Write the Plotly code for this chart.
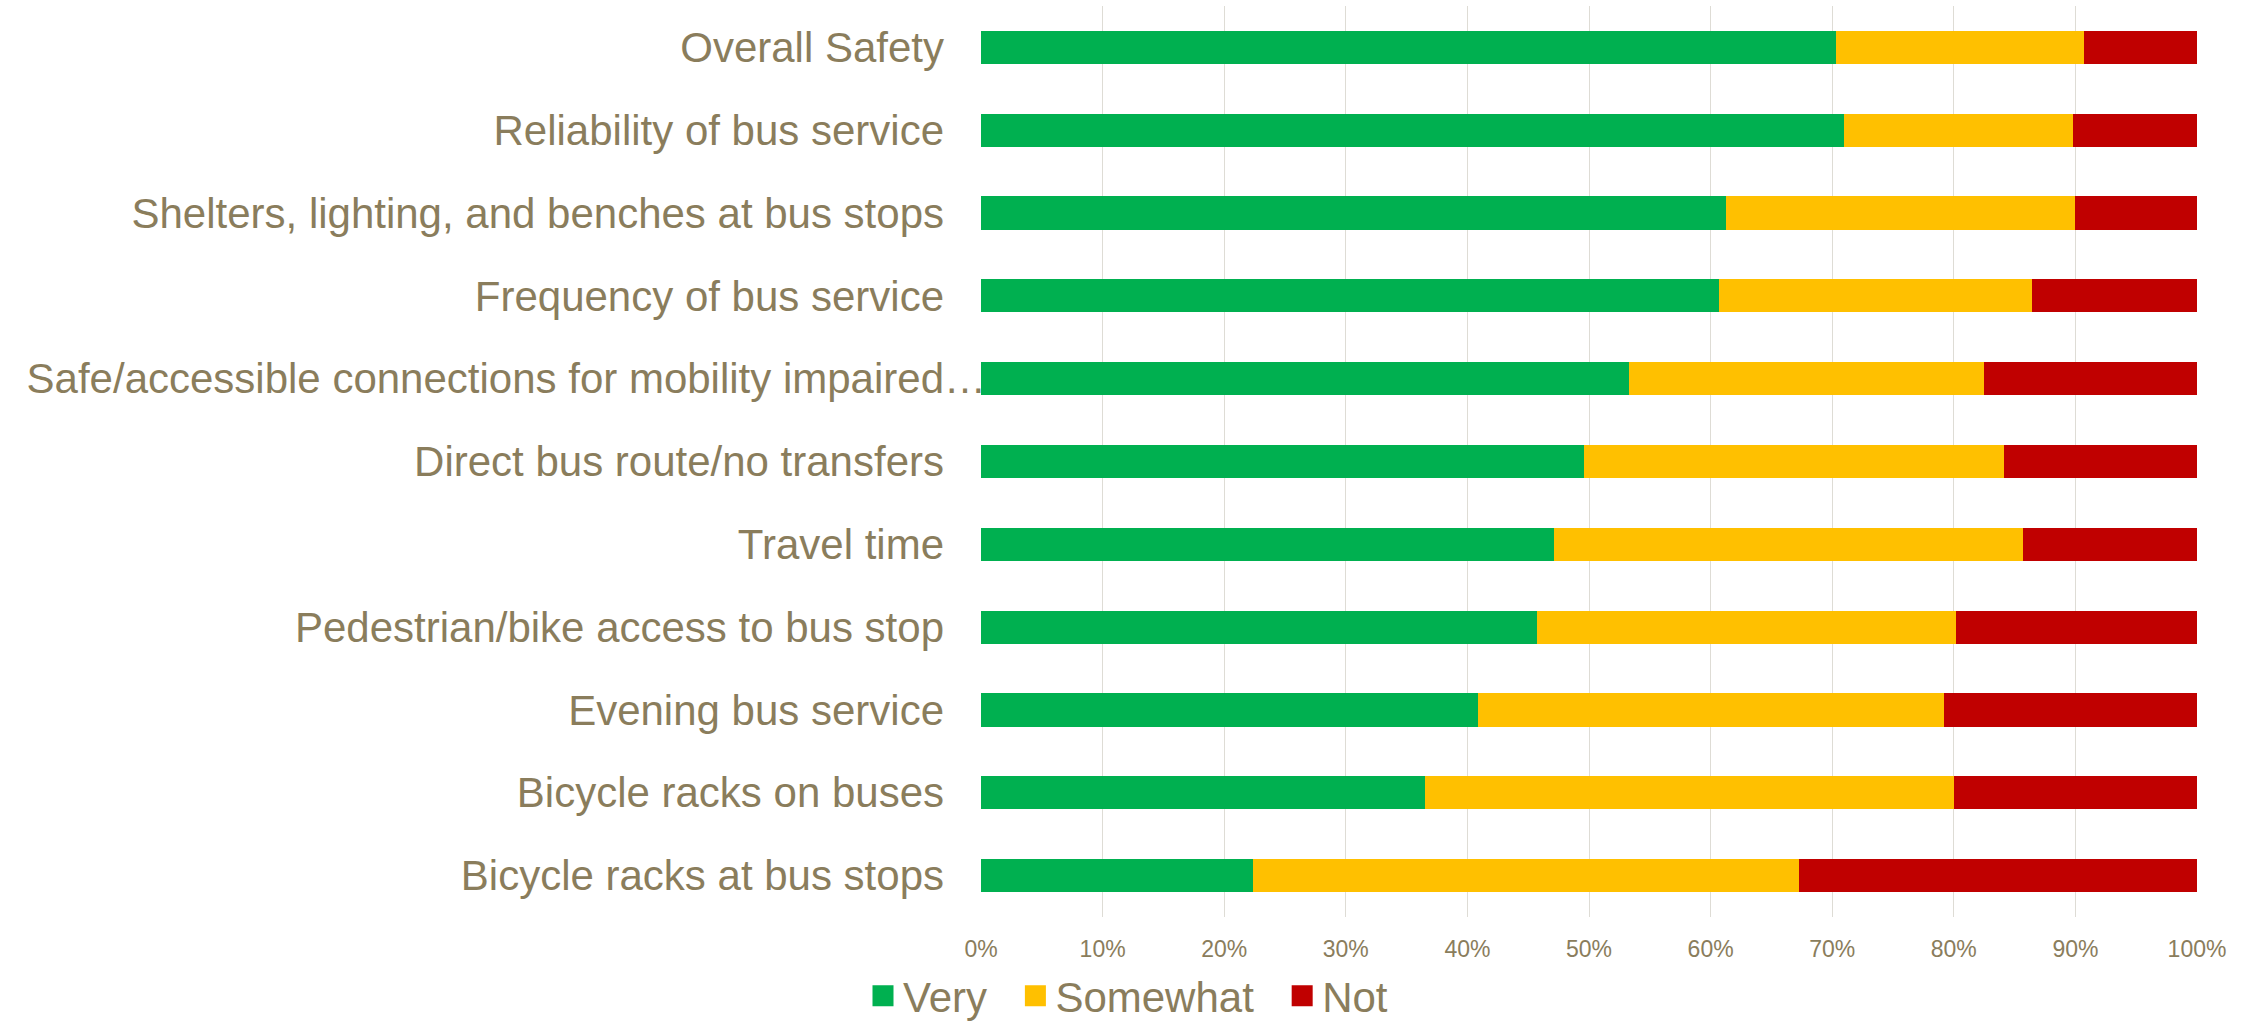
import plotly.graph_objects as go

# Survey: how important is each factor (share of responses)
categories = [
    "Overall Safety",
    "Reliability of bus service",
    "Shelters, lighting, and benches at bus stops",
    "Frequency of bus service",
    "Safe/accessible connections for mobility impaired…",
    "Direct bus route/no transfers",
    "Travel time",
    "Pedestrian/bike access to bus stop",
    "Evening bus service",
    "Bicycle racks on buses",
    "Bicycle racks at bus stops",
]
very = [70.3, 71.0, 61.3, 60.7, 53.3, 49.6, 47.1, 45.7, 40.9, 36.5, 22.4]
somewhat = [20.4, 18.8, 28.7, 25.7, 29.2, 34.5, 38.6, 34.5, 38.3, 43.5, 44.9]
not_imp = [9.3, 10.2, 10.0, 13.6, 17.5, 15.9, 14.3, 19.8, 20.8, 20.0, 32.7]

series_names = ["Very", "Somewhat", "Not"]
series_colors = ["#00B050", "#FFC000", "#C00000"]
x_ticks = [0, 10, 20, 30, 40, 50, 60, 70, 80, 90, 100]

TEXT = "#8A7D5C"
GRID = "#DEDCD5"
FONT = "Liberation Sans, Arial, sans-serif"

n = len(categories)
long_idx = 4  # the truncated label sits closer to the axis

fig = go.Figure()
for name, vals, col in zip(series_names, [very, somewhat, not_imp], series_colors):
    fig.add_trace(go.Bar(
        y=categories, x=[v / 100 for v in vals], orientation="h",
        name=name, marker=dict(color=col, line=dict(width=0)),
        showlegend=False, hovertemplate="%{y}: %{x:.0%}<extra>" + name + "</extra>",
    ))

# square legend keys
pad = "\u00a0\u00a0"
for i, (name, col) in enumerate(zip(series_names, series_colors)):
    fig.add_trace(go.Scatter(
        x=[None], y=[None], yaxis="y2", mode="markers",
        name=name + (pad if i < len(series_names) - 1 else ""),
        marker=dict(symbol="square", size=16, color=col, line=dict(color=col, width=5)),
        showlegend=True,
    ))

ticktext = [c if i != long_idx else "" for i, c in enumerate(categories)]

fig.update_layout(
    width=2254, height=1030,
    margin=dict(l=981, r=57, t=6, b=113, autoexpand=False),
    paper_bgcolor="white", plot_bgcolor="white",
    barmode="stack", bargap=0.6,
    font=dict(family=FONT, color=TEXT),
    xaxis=dict(
        range=[0, 1], tickvals=[t / 100 for t in x_ticks],
        ticktext=[f"{t}%" for t in x_ticks],
        showgrid=True, gridcolor=GRID, gridwidth=1.3, zeroline=False, showline=False,
        ticks="", tickfont=dict(size=23, color=TEXT), ticklabelstandoff=16,
        fixedrange=True,
    ),
    yaxis=dict(
        type="category", categoryorder="array", categoryarray=categories,
        range=[n - 0.5, -0.5], tickvals=categories, ticktext=ticktext,
        showgrid=False, zeroline=False, showline=False, ticks="",
        tickfont=dict(size=42, color=TEXT), ticklabelstandoff=36,
    ),
    yaxis2=dict(
        overlaying="y", anchor="x", side="left",
        range=[n - 0.5, -0.5], tickvals=[long_idx], ticktext=[categories[long_idx]],
        showgrid=False, zeroline=False, showline=False, ticks="",
        tickfont=dict(size=42, color=TEXT), ticklabelstandoff=-6,
    ),
    legend=dict(
        orientation="h", traceorder="normal", xref="container", yref="container",
        x=863 / 2254, xanchor="left", y=-0.008, yanchor="bottom",
        font=dict(size=42, color=TEXT), bgcolor="rgba(0,0,0,0)",
        itemclick=False, itemdoubleclick=False,
    ),
)

fig.write_html("out.html")
